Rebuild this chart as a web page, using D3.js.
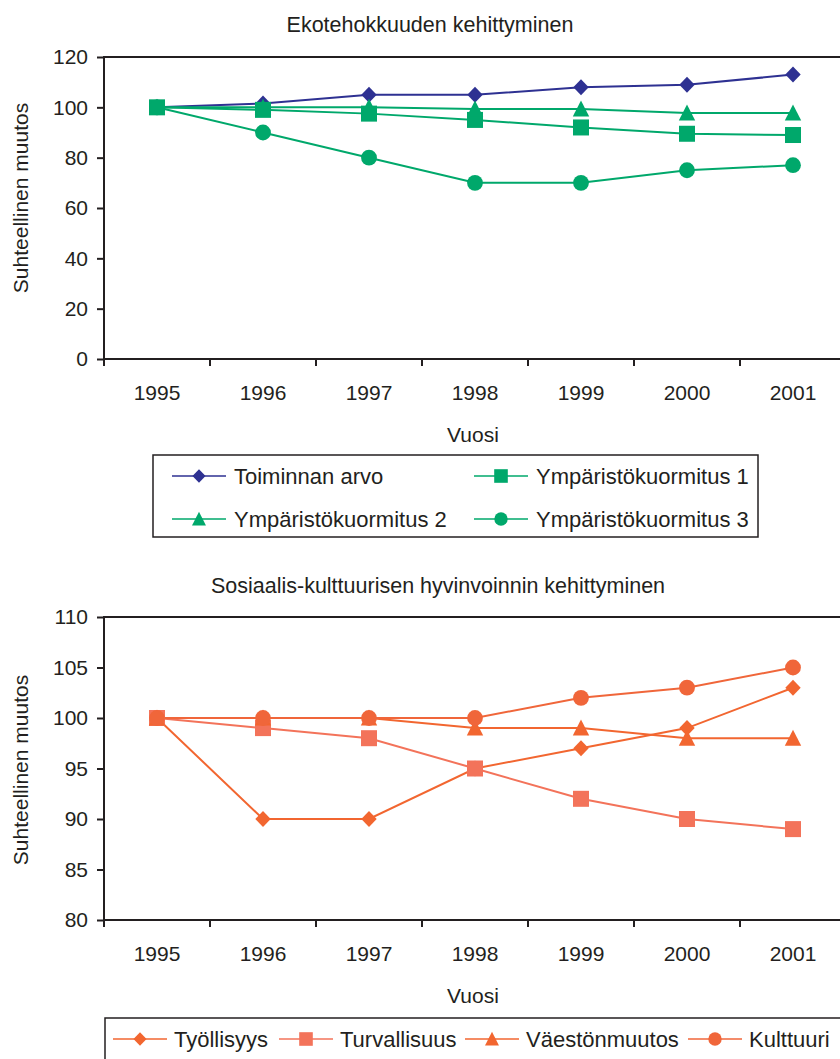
<!DOCTYPE html>
<html><head><meta charset="utf-8">
<script src="https://cdn.jsdelivr.net/npm/d3@7/dist/d3.min.js"></script>
<style>body{margin:0;background:#fff;} text{font-family:"Liberation Sans",Arial,sans-serif;fill:#231f20;}</style>
</head><body><svg id="c" width="840" height="1059"></svg>
<script>
const years = ["1995","1996","1997","1998","1999","2000","2001"];
const eco = [
  {name:"Toiminnan arvo", symbol:"diamond", color:"#2e3192", values:[100,101.5,105,105,108,109,113]},
  {name:"Ympäristökuormitus 1", symbol:"square", color:"#00a86b", values:[100,99,97.5,95,92,89.5,89]},
  {name:"Ympäristökuormitus 2", symbol:"triangle", color:"#00a86b", values:[100,100,100,99.3,99.3,97.7,97.7]},
  {name:"Ympäristökuormitus 3", symbol:"circle", color:"#00a86b", values:[100,90,80,70,70,75,77]}
];
const soc = [
  {name:"Työllisyys", symbol:"diamond", color:"#f26630", values:[100,90,90,95,97,99,103]},
  {name:"Turvallisuus", symbol:"square", color:"#f3735a", values:[100,99,98,95,92,90,89]},
  {name:"Väestönmuutos", symbol:"triangle", color:"#f26630", values:[100,100,100,99,99,98,98]},
  {name:"Kulttuuri", symbol:"circle", color:"#f0663a", values:[100,100,100,100,102,103,105]}
];
const ecoTicks = [0,20,40,60,80,100,120];
const socTicks = [80,85,90,95,100,105,110];

const svg = d3.select("#c");

function marker(g, type, color, cx, cy, s){
  s = s || 1;
  if(type==="diamond"){
    g.append("path").attr("d",`M${cx},${cy-8*s}L${cx+7.7*s},${cy}L${cx},${cy+8*s}L${cx-7.7*s},${cy}Z`).attr("fill",color);
  } else if(type==="square"){
    g.append("rect").attr("x",cx-8*s).attr("y",cy-8*s).attr("width",16*s).attr("height",16*s).attr("fill",color);
  } else if(type==="triangle"){
    g.append("path").attr("d",`M${cx},${cy-8.5*s}L${cx+8.2*s},${cy+7.5*s}L${cx-8.2*s},${cy+7.5*s}Z`).attr("fill",color);
  } else {
    g.append("circle").attr("cx",cx).attr("cy",cy).attr("r",7.9*s).attr("fill",color);
  }
}

function chart(opts){
  const {series, ticks, top, bottom, title, titleX, titleY, xLabelY, ylabelY} = opts;
  const left = 104, right = 846;
  const x = d3.scaleBand().domain(years).range([left,right]).padding(0);
  const y = d3.scaleLinear().domain([ticks[0], ticks[ticks.length-1]]).range([bottom, top]);
  const g = svg.append("g");
  g.append("text").attr("x",titleX).attr("y",titleY).attr("text-anchor","middle").attr("font-size",21.5).text(title);
  g.append("rect").attr("x",left).attr("y",top).attr("width",right+5-left).attr("height",bottom-top)
    .attr("fill","none").attr("stroke","#231f20").attr("stroke-width",2);
  const ya = g.append("g").attr("transform",`translate(${left},0)`)
    .call(d3.axisLeft(y).tickValues(ticks).tickSize(7).tickPadding(9).tickFormat(d3.format("d")));
  ya.select(".domain").remove();
  ya.selectAll("line").attr("stroke","#231f20").attr("stroke-width",2);
  ya.selectAll("text").attr("font-size",21).attr("fill","#231f20");
  const xa = g.append("g").attr("transform",`translate(0,${bottom})`)
    .call(d3.axisBottom(x).tickSize(0));
  xa.select(".domain").remove();
  xa.selectAll("text").attr("font-size",21).attr("fill","#231f20").attr("dy",null).attr("y",41);
  years.forEach(yr=>{
    g.append("line").attr("x1",x(yr)).attr("x2",x(yr)).attr("y1",bottom).attr("y2",bottom+7)
      .attr("stroke","#231f20").attr("stroke-width",2);
  });
  g.append("text").attr("x",473).attr("y",xLabelY).attr("text-anchor","middle").attr("font-size",21).text("Vuosi");
  g.append("text").attr("transform",`translate(28,${ylabelY}) rotate(-90)`).attr("text-anchor","middle")
    .attr("font-size",21).text("Suhteellinen muutos");
  const cx = d=>x(d)+x.bandwidth()/2;
  const line = d3.line().x((v,i)=>cx(years[i])).y(v=>y(v));
  series.forEach(s=>{
    g.append("path").attr("d",line(s.values)).attr("fill","none").attr("stroke",s.color).attr("stroke-width",2);
  });
  series.forEach(s=>{
    s.values.forEach((v,i)=>marker(g,s.symbol,s.color,cx(years[i]),y(v)));
  });
}

chart({series:eco, ticks:ecoTicks, top:57, bottom:359, title:"Ekotehokkuuden kehittyminen", titleX:430, titleY:32, xLabelY:442, ylabelY:198});
chart({series:soc, ticks:socTicks, top:617, bottom:920, title:"Sosiaalis-kulttuurisen hyvinvoinnin kehittyminen", titleX:438, titleY:593, xLabelY:1003, ylabelY:770});

// legend 1
const l1 = svg.append("g");
l1.append("rect").attr("x",153).attr("y",455).attr("width",605).attr("height",82).attr("fill","none").attr("stroke","#231f20").attr("stroke-width",1.5);
const l1pos = [[172,476],[474,476],[172,519],[474,519]];
eco.forEach((s,i)=>{
  const [lx,ly]=l1pos[i];
  l1.append("line").attr("x1",lx).attr("x2",lx+54).attr("y1",ly).attr("y2",ly).attr("stroke",s.color).attr("stroke-width",1.5);
  marker(l1,s.symbol,s.color,lx+27,ly,0.85);
  l1.append("text").attr("x",lx+62).attr("y",ly+7.5).attr("font-size",22).text(s.name);
});
// legend 2
const l2 = svg.append("g");
l2.append("rect").attr("x",105).attr("y",1018).attr("width",760).attr("height",60).attr("fill","none").attr("stroke","#231f20").attr("stroke-width",1.5);
const l2x = [113,279,465,688];
soc.forEach((s,i)=>{
  const lx=l2x[i], ly=1039;
  l2.append("line").attr("x1",lx).attr("x2",lx+54).attr("y1",ly).attr("y2",ly).attr("stroke",s.color).attr("stroke-width",1.5);
  marker(l2,s.symbol,s.color,lx+27,ly,0.85);
  l2.append("text").attr("x",lx+61).attr("y",ly+7.5).attr("font-size",22).text(s.name);
});
</script></body></html>
